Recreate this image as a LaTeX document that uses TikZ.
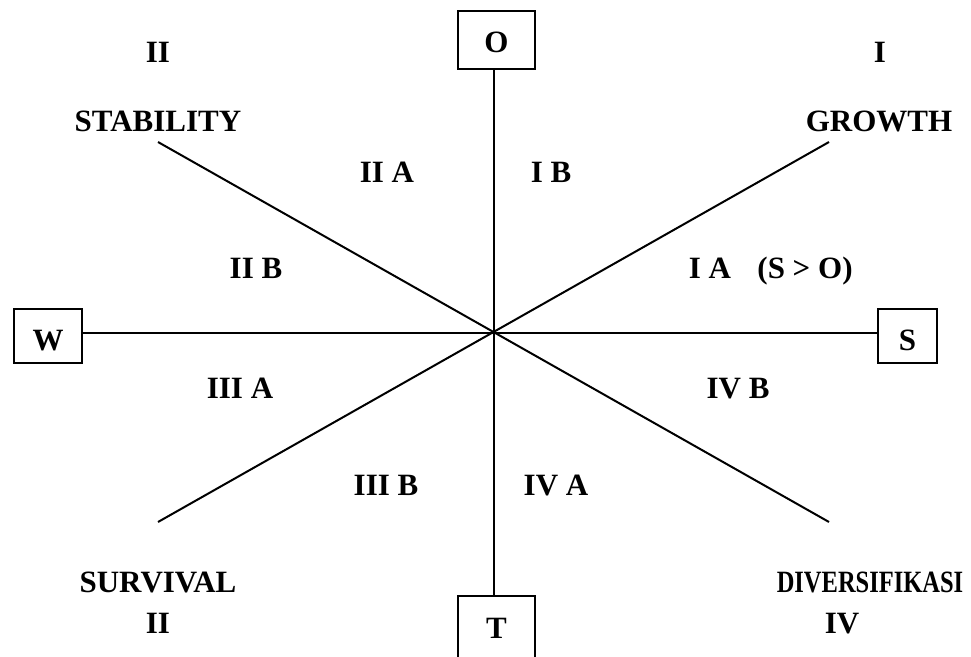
\documentclass[tikz,border=0pt]{standalone}
\usepackage{fontspec}
\setmainfont{Liberation Serif}
\begin{document}
\begin{tikzpicture}[x=1pt,y=-1pt,
  lbl/.style={font=\fontsize{31}{36}\selectfont\bfseries, inner sep=0pt, anchor=base},
  box/.style={draw, line width=2pt, rectangle, inner sep=0pt},
  axis/.style={line width=2pt}]
\clip (0,0) rectangle (971,656);
\coordinate (c) at (494,333);
\node[box, minimum width=77pt, minimum height=58pt] (O) at (496.5,40) {};
\node[box, minimum width=68pt, minimum height=54pt] (W) at (48,336) {};
\node[box, minimum width=59pt, minimum height=54pt] (S) at (907.5,336) {};
\node[box, minimum width=77pt, minimum height=70pt] (T) at (496.5,631) {};
\node[lbl] (Ot) at (496.5,52) {O};
\node[lbl] (Wt) at (48,350) {W};
\node[lbl] (St) at (907.5,350) {S};
\node[lbl] (Tt) at (496.5,638) {T};
\coordinate (ne) at (829,142);
\coordinate (nw) at (158,142);
\coordinate (sw) at (158,522);
\coordinate (se) at (829,522);
\draw[axis] (O.south -| c) -- (T.north -| c);
\draw[axis] (W.east |- c) -- (S.west |- c);
\draw[axis] (nw) -- (se);
\draw[axis] (sw) -- (ne);
\node[lbl] (q2) at (158,62) {II};
\node[lbl] (q1) at (880,62) {I};
\node[lbl] (stab) at (158,131) {STABILITY};
\node[lbl] (grow) at (879,131) {GROWTH};
\node[lbl] (iia) at (387,182) {II A};
\node[lbl] (ib) at (551,182) {I B};
\node[lbl] (iib) at (256,278) {II B};
\node[lbl] (ia) at (710,278) {I A};
\node[lbl] (so) at (805,278) {(S > O)};
\node[lbl] (iiia) at (240,398) {III A};
\node[lbl] (ivb) at (738,398) {IV B};
\node[lbl] (iiib) at (386,495) {III B};
\node[lbl] (iva) at (556,495) {IV A};
\node[lbl] (surv) at (158,592) {SURVIVAL};
\node[lbl] (div) at (870,592) {\scalebox{0.79}[1]{DIVERSIFIKASI}};
\node[lbl] (q3) at (158,633) {II};
\node[lbl] (q4) at (842,633) {IV};
\end{tikzpicture}
\end{document}
